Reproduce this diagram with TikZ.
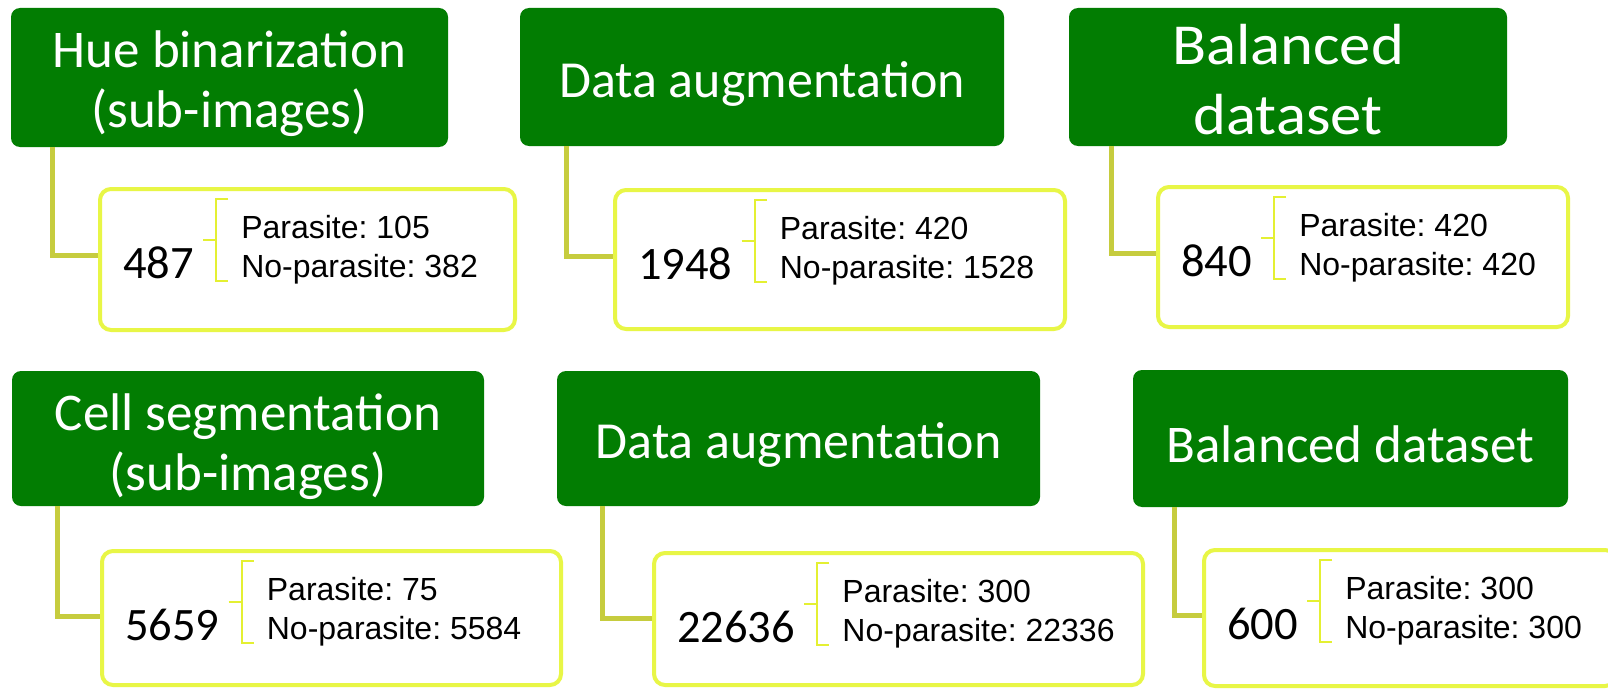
\documentclass[tikz,border=0pt]{standalone}
\usepackage{fontspec}
\setmainfont{Carlito}
\newfontfamily\arialf{Liberation Sans}
\newfontfamily\titleC[FakeStretch=1.08]{Carlito}
\usetikzlibrary{calc}
\definecolor{gr}{RGB}{2,125,2}
\definecolor{ybord}{RGB}{232,246,70}
\definecolor{connc}{RGB}{198,204,62}
\definecolor{brc}{RGB}{228,240,50}
\tikzset{
  gbox/.style={fill=gr, rounded corners=9pt, inner sep=0pt},
  ttl/.style={inner sep=0pt, align=center, text=white, font=\fontsize{52}{58}\selectfont},
  ybox/.style={draw=ybord, line width=4pt, rounded corners=11pt, fill=white, inner sep=0pt},
  conn/.style={draw=connc, line width=5pt},
  brk/.style={draw=brc, line width=2pt},
  num/.style={inner sep=0pt, font=\fontsize{46.5}{46.5}\selectfont},
  lab/.style={inner sep=0pt, font=\arialf\fontsize{32}{32}\selectfont\frenchspacing},
}
\begin{document}
\begin{tikzpicture}[x=1pt,y=-1pt]
\useasboundingbox[fill=white] (0,0) rectangle (1608,690);
% green boxes
\node[gbox, minimum width=437pt, minimum height=139pt] (g1) at (229.5,77.5) {};
\node[gbox, minimum width=484pt, minimum height=138pt] (g2) at (762,77) {};
\node[gbox, minimum width=438pt, minimum height=138pt] (g3) at (1288,77) {};
\node[gbox, minimum width=472pt, minimum height=135pt] (g4) at (248,438.5) {};
\node[gbox, minimum width=483pt, minimum height=135pt] (g5) at (798.5,438.5) {};
\node[gbox, minimum width=435pt, minimum height=137pt] (g6) at (1350.5,438.5) {};
% titles
\node[ttl, font=\fontsize{53}{60}\selectfont, yshift=-6pt] (t1) at (g1.center) {Hue binarization\\(sub-images)};
\node[ttl, yshift=-7pt] (t2) at (g2.center) {Data augmentation};
\node[ttl, font=\titleC\fontsize{58}{70}\selectfont, yshift=-2.5pt] (t3) at (g3.center) {Balanced\\dataset};
\node[ttl, font=\fontsize{53}{60}\selectfont, yshift=-8pt] (t4) at (g4.center) {Cell segmentation\\(sub-images)};
\node[ttl, yshift=-6pt] (t5) at (g5.center) {Data augmentation};
\node[ttl, font=\fontsize{53}{58}\selectfont, yshift=-6pt] (t6) at (g6.center) {Balanced dataset};
% yellow boxes
\node[ybox, minimum width=415pt, minimum height=141pt] (y1) at (307.5,259.5) {};
\node[ybox, minimum width=450pt, minimum height=139pt] (y2) at (840,259.5) {};
\node[ybox, minimum width=410pt, minimum height=140pt] (y3) at (1363,257) {};
\node[ybox, minimum width=459pt, minimum height=134pt] (y4) at (331.5,618) {};
\node[ybox, minimum width=489pt, minimum height=132pt] (y5) at (898.5,619) {};
\node[ybox, minimum width=412pt, minimum height=136pt] (y6) at (1410,618) {};
% connectors
\draw[conn] ($(g1.south west)+(42,0)$) |- ($(y1.north west)+(0,68)$);
\draw[conn] ($(g2.south west)+(47,0)$) |- ($(y2.north west)+(0,68)$);
\draw[conn] ($(g3.south west)+(43,0)$) |- ($(y3.north west)+(0,68)$);
\draw[conn] ($(g4.south west)+(46,0)$) |- ($(y4.north west)+(0,67)$);
\draw[conn] ($(g5.south west)+(46,0)$) |- ($(y5.north west)+(0,67)$);
\draw[conn] ($(g6.south west)+(42,0)$) |- ($(y6.north west)+(0,67)$);
% contents
\foreach \i/\n/\a/\b in {1/487/105/382, 2/1948/420/1528, 3/840/420/420, 4/5659/75/5584, 5/22636/300/22336, 6/600/300/300}{
  \node[num, anchor=base west] (n\i) at ($(y\i.north west)+(25,91)$) {\n};
  \coordinate (k\i) at (n\i.east |- y\i.north);
  \draw[brk] ($(k\i)+(34,12)$) -| ($(k\i)+(22,94)$) -- ++(12,0);
  \draw[brk] ($(k\i)+(9,53)$) -- ++(13,0);
  \node[lab, anchor=base west] (a\i) at ($(k\i)+(47,51)$) {Parasite: \a};
  \node[lab, anchor=base west] (b\i) at ($(k\i)+(47,90)$) {No-parasite: \b};
}
\end{tikzpicture}
\end{document}
